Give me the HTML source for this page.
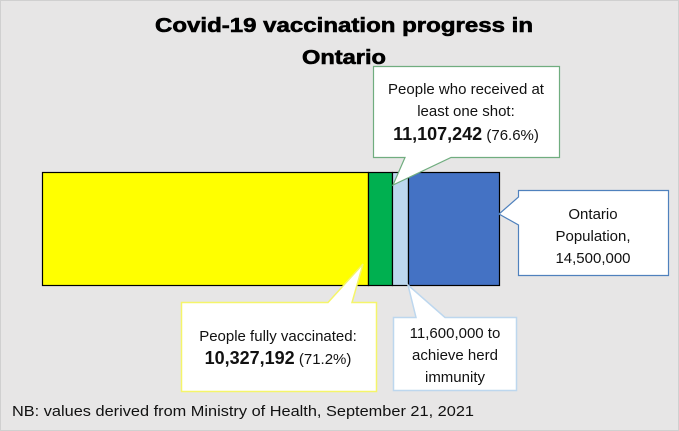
<!DOCTYPE html>
<html><head><meta charset="utf-8"><style>
html,body{margin:0;padding:0;background:#e7e6e6;}
svg{display:block;font-family:"Liberation Sans",sans-serif;}
</style></head><body>
<svg width="679" height="431" viewBox="0 0 679 431">
<rect x="0" y="0" width="679" height="431" fill="#e7e6e6"/>
<rect x="0.5" y="0.5" width="678" height="430" fill="none" stroke="#d0d0d0"/>
<g font-weight="900" font-size="20" text-anchor="middle" fill="#000">
<text x="344" y="32" textLength="378" lengthAdjust="spacingAndGlyphs" stroke="#000" stroke-width="0.6">Covid-19 vaccination progress in</text>
<text x="344" y="64" textLength="84" lengthAdjust="spacingAndGlyphs" stroke="#000" stroke-width="0.6">Ontario</text>
</g>
<g stroke="#000" stroke-width="1.2">
<rect x="42.5" y="172.5" width="326" height="113" fill="#ffff00"/>
<rect x="368.5" y="172.5" width="24" height="113" fill="#00b050"/>
<rect x="392.5" y="172.5" width="16" height="113" fill="#bdd7ee"/>
<rect x="408.5" y="172.5" width="91" height="113" fill="#4472c4"/>
</g>
<!-- green callout -->
<path d="M373.5,66.5 H559.5 V157.5 H451 L393,185 L405,157.5 H373.5 Z" fill="#fff" stroke="#70ad7f" stroke-width="1.2"/>
<!-- Ontario callout -->
<path d="M518.5,190.5 H668.5 V275.5 H518.5 V225 L499,214 L518.5,197 Z" fill="#fff" stroke="#4f81bd" stroke-width="1.2"/>
<!-- yellow callout -->
<path d="M181.5,302.5 H328 L363,264 L352,302.5 H376.5 V391.5 H181.5 Z" fill="#fff" stroke="#f5f56a" stroke-width="1.5"/>
<!-- light blue callout -->
<path d="M393.5,317.5 H416 L408,285 L445,317.5 H516.5 V390.5 H393.5 Z" fill="#fff" stroke="#bdd7ee" stroke-width="1.5"/>
<g font-size="15" fill="#111" text-anchor="middle">
<text x="466" y="94">People who received at</text>
<text x="466" y="116">least one shot:</text>
<text x="466" y="140"><tspan font-weight="bold" font-size="18">11,107,242</tspan> (76.6%)</text>
<text x="593" y="219">Ontario</text>
<text x="593" y="241">Population,</text>
<text x="593" y="263">14,500,000</text>
<text x="278" y="341">People fully vaccinated:</text>
<text x="278" y="364"><tspan font-weight="bold" font-size="18">10,327,192</tspan> (71.2%)</text>
<text x="455" y="338">11,600,000 to</text>
<text x="455" y="360">achieve herd</text>
<text x="455" y="382">immunity</text>
</g>
<text x="12" y="416" font-size="14.5" fill="#111" textLength="462" lengthAdjust="spacingAndGlyphs">NB: values derived from Ministry of Health, September 21, 2021</text>
</svg>
</body></html>
